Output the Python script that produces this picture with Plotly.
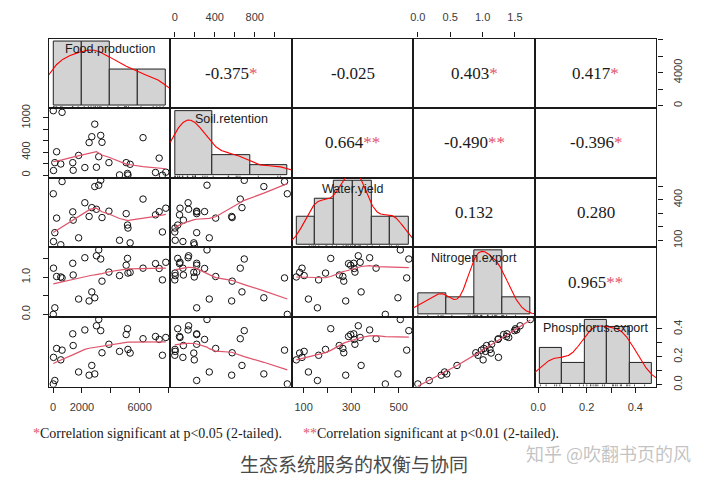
import numpy as np
import plotly.graph_objects as go

# ---------------- data ----------------
var_names = ["Food.production", "Soil.retention", "Water.yield",
             "Nitrogen.export", "Phosphorus.export"]

food = [10, 25, 117, 240, 529, 619, 1360, 1390, 1767, 2200, 2496, 2681, 2888, 3004,
        3163, 3300, 3389, 3871, 4606, 5067, 5160, 5190, 5342, 6236, 7102, 7356, 7583, 7817]
soil = [1126, 81, 219, 409, 195, 1098, 219, 86, 345, 133, 569, 672, 891, 138,
        322, 695, 574, 219, 4, 219, 29, 2, 190, 655, 47, 298, 0, 52]
water = [444, 93, 158, 265, 69, 534, 311, 250, 120, 378, 277, 342, 497, 330,
         507, 543, 269, 316, 102, 298, 214, 192, 83, 405, 289, 313, 163, 338]
nitrogen = [0.0, 1.245, 0.176, 1.02, 1.008, 0.982, 1.376, 1.061, 0.413, 1.526, 0.361, 0.605,
            0.447, 1.579, 1.737, 1.492, 0.895, 1.139, 1.045, 1.324, 1.508, 1.113, 1.132,
            1.245, 1.368, 1.237, 0.929, 1.403]
phosphorus = [0.005, 0.196, 0.030, 0.260, 0.178, 0.248, 0.365, 0.281, 0.091, 0.393, 0.068,
              0.138, 0.077, 0.423, 0.468, 0.388, 0.229, 0.290, 0.239, 0.360, 0.402, 0.253,
              0.227, 0.330, 0.346, 0.325, 0.211, 0.339]

# upper-triangle correlation labels, row by row
corr_values = ["-0.375", "-0.025", "0.403", "0.417", "0.664", "-0.490", "-0.396",
               "0.132", "0.280", "0.965"]
corr_stars = ["*", "", "*", "*", "**", "**", "*", "", "", "**"]

hist_bin_width = [2000, 400, 100, 0.5, 0.1]

tick_vals = [[0, 2000, 4000, 6000, 8000],
             [0, 200, 400, 600, 800, 1000],
             [100, 200, 300, 400, 500],
             [0.0, 0.5, 1.0, 1.5],
             [0.0, 0.1, 0.2, 0.3, 0.4]]
x_tick_text = [["0", "2000", "", "6000", ""],
               ["0", "", "400", "", "800", ""],
               ["100", "", "300", "", "500"],
               ["0.0", "0.5", "1.0", "1.5"],
               ["0.0", "", "0.2", "", "0.4"]]
y_tick_text = [["0", "", "4000", "", ""],
               ["0", "", "400", "", "", "1000"],
               ["100", "", "", "400", ""],
               ["0.0", "", "1.0", ""],
               ["0.0", "", "0.2", "", "0.4"]]

footnote_1 = "Correlation significant at p&lt;0.05 (2-tailed)."
footnote_2 = "Correlation significant at p&lt;0.01 (2-tailed)."
caption = "生态系统服务的权衡与协同"
watermark = "知乎 @吹翻书页的风"

# ---------------- helpers ----------------
def bw_nrd0(x):
    x = np.asarray(x, float)
    sd = np.std(x, ddof=1)
    q75, q25 = np.percentile(x, [75, 25])
    lo = min(sd, (q75 - q25) / 1.34)
    if lo <= 0:
        lo = sd if sd > 0 else 1.0
    return 0.9 * lo * len(x) ** (-0.2)


def density(x):
    x = np.asarray(x, float)
    bw = bw_nrd0(x)
    g = np.linspace(x.min() - 3 * bw, x.max() + 3 * bw, 512)
    d = np.exp(-0.5 * ((g[:, None] - x[None, :]) / bw) ** 2).sum(1) / (len(x) * bw * np.sqrt(2 * np.pi))
    return g, d


def lowess(x, y, f=2 / 3, iters=3):
    x = np.asarray(x, float)
    y = np.asarray(y, float)
    o = np.argsort(x, kind="mergesort")
    x = x[o]
    y = y[o]
    n = len(x)
    ns = max(min(int(f * n + 1e-7), n), 2)
    rw = np.ones(n)
    rng = x[-1] - x[0]
    ys = np.zeros(n)
    for it in range(iters + 1):
        for i in range(n):
            d = np.abs(x - x[i])
            h = np.sort(d)[ns - 1]
            if h > 0:
                r = d / h
                w = np.where(r <= 0.999, np.where(r <= 0.001, 1.0, (1 - r ** 3) ** 3), 0.0)
            else:
                w = (d == 0).astype(float)
            w = w * rw
            if w.sum() <= 0:
                ys[i] = y[i]
                continue
            w = w / w.sum()
            if h > 0:
                a = np.sum(w * x)
                b = x[i] - a
                c = np.sum(w * (x - a) ** 2)
                if np.sqrt(c) > 0.001 * rng:
                    b = b / c
                    w = w * (b * (x - a) + 1)
            ys[i] = np.sum(w * y)
        if it == iters:
            break
        res = y - ys
        cmad = 6 * np.median(np.abs(res))
        if cmad < 1e-7 * np.mean(np.abs(y)):
            break
        r = np.abs(res) / cmad
        rw = np.where(r <= 0.001, 1.0, np.where(r <= 0.999, (1 - r ** 2) ** 2, 0.0))
    return x, ys


def ext_range(v, frac=0.04):
    lo, hi = float(np.min(v)), float(np.max(v))
    s = hi - lo
    return [lo - frac * s, hi + frac * s]


# ---------------- geometry ----------------
# the page shows the figure 8px in from the top-left corner (body margin),
# so the figure is 8px smaller and window pixels are converted with PAD.
PAD = 8
WIN_W, WIN_H = 720, 479
W, H = WIN_W - PAD, WIN_H - PAD


def px(xp):
    return (xp - PAD) / W


def py(yp):
    return 1 - (yp - PAD) / H


LEFT, RIGHT, TOP, BOTTOM = 45, 656, 35, 389
NV = 5
cw = (RIGHT - LEFT) / NV
rh = (BOTTOM - TOP) / NV

data = [np.array(food, float), np.array(soil, float), np.array(water, float),
        np.array(nitrogen, float), np.array(phosphorus, float)]
ranges = [ext_range(v) for v in data]

SMOOTH = "#DF536B"
STAR = "#DF536B"
FRAME = "#1a1a1a"
TICKFONT = dict(family="Liberation Sans, Arial, sans-serif", size=11, color="#3a3a3a")

fig = go.Figure()
layout = {}
annotations = []


def pid(i, j):
    return i * NV + j + 1


def axname(prefix, k):
    return prefix if k == 1 else f"{prefix}{k}"


def xticks(j, side):
    return dict(side=side, ticks="outside", ticklen=5, tickwidth=1, tickcolor=FRAME,
                tickvals=tick_vals[j], ticktext=x_tick_text[j], showticklabels=True,
                tickfont=TICKFONT, ticklabelstandoff=7 if side == "top" else 5)


def yticks(i, side):
    return dict(side=side, ticks="outside", ticklen=5, tickwidth=1, tickcolor=FRAME,
                tickvals=tick_vals[i], ticktext=y_tick_text[i], showticklabels=True,
                tickfont=TICKFONT, tickangle=-90,
                ticklabelstandoff=8 if side == "left" else 6)


def base_axis(domain, anchor, rng):
    return dict(domain=domain, anchor=anchor, range=rng, showgrid=False,
                zeroline=False, showline=True, mirror=True, linecolor=FRAME, linewidth=1.3,
                ticks="", showticklabels=False, fixedrange=True)


extra = 26
for i in range(NV):
    for j in range(NV):
        k = pid(i, j)
        xd = [px(LEFT + j * cw), px(LEFT + (j + 1) * cw)]
        yd = [py(TOP + (i + 1) * rh), py(TOP + i * rh)]
        xr, yr = axname("x", k), axname("y", k)

        if i != j:
            xa = base_axis(xd, yr, ranges[j])
            ya = base_axis(yd, xr, ranges[i])
            if i == NV - 1 and j % 2 == 0:
                xa.update(xticks(j, "bottom"))
            if i == 0 and j % 2 == 1:
                xa.update(xticks(j, "top"))
            if j == 0 and i % 2 == 1:
                ya.update(yticks(i, "left"))
            if j == NV - 1 and i % 2 == 0:
                ya.update(yticks(i, "right"))
            layout[axname("xaxis", k)] = xa
            layout[axname("yaxis", k)] = ya

        if i > j:
            x, y = data[j], data[i]
            fig.add_trace(go.Scatter(x=x, y=y, xaxis=xr, yaxis=yr, mode="markers",
                                     marker=dict(symbol="circle-open", size=6.5, color="#111",
                                                 line=dict(width=1, color="#111")),
                                     showlegend=False, hoverinfo="skip"))
            lx, ly = lowess(x, y)
            fig.add_trace(go.Scatter(x=lx, y=ly, xaxis=xr, yaxis=yr, mode="lines",
                                     line=dict(color=SMOOTH, width=1.2),
                                     showlegend=False, hoverinfo="skip"))
        elif i < j:
            fig.add_trace(go.Scatter(x=[None], y=[None], xaxis=xr, yaxis=yr, mode="markers",
                                     showlegend=False, hoverinfo="skip"))
        else:
            # diagonal: histogram in its own coordinate system
            v = data[i]
            bwid = hist_bin_width[i]
            b0 = np.floor(v.min() / bwid + 1e-9) * bwid
            b1 = np.ceil(v.max() / bwid - 1e-9) * bwid
            nb = int(round((b1 - b0) / bwid))
            edges = b0 + bwid * np.arange(nb + 1)
            counts, _ = np.histogram(v, bins=edges)
            dens = counts / (len(v) * bwid)
            M = dens.max()
            hxr = [edges[0] - 0.04 * (edges[-1] - edges[0]), edges[-1] + 0.04 * (edges[-1] - edges[0])]
            hyr = [-0.04 * M, 1.04 * M]
            layout[axname("xaxis", k)] = base_axis(xd, yr, hxr)
            layout[axname("yaxis", k)] = base_axis(yd, xr, hyr)
            fig.add_trace(go.Bar(x=(edges[:-1] + edges[1:]) / 2, y=dens, width=bwid,
                                 xaxis=xr, yaxis=yr,
                                 marker=dict(color="#D3D3D3", line=dict(color="#222", width=1)),
                                 showlegend=False, hoverinfo="skip"))
            g, d = density(v)
            fig.add_trace(go.Scatter(x=g, y=d, xaxis=xr, yaxis=yr, mode="lines",
                                     line=dict(color="#FF0000", width=1.1),
                                     showlegend=False, hoverinfo="skip"))
            rx, ry = [], []
            for val in v:
                rx += [val, val, None]
                ry += [hyr[0], hyr[0] + 0.03 * (hyr[1] - hyr[0]), None]
            fig.add_trace(go.Scatter(x=rx, y=ry, xaxis=xr, yaxis=yr, mode="lines",
                                     line=dict(color="#333", width=0.8),
                                     showlegend=False, hoverinfo="skip"))
            annotations.append(dict(text=var_names[i], xref=f"{xr} domain", yref=f"{yr} domain",
                                    x=0.5, y=1 - 11 / rh, xanchor="center", yanchor="middle",
                                    showarrow=False,
                                    font=dict(family="Liberation Sans, Arial, sans-serif",
                                              size=12.5, color="#1a1a1a")))
            # last diagonal panel carries the outer axes of Phosphorus.export
            if i == NV - 1:
                tx, ty = f"x{extra}", f"y{extra}"
                ta = dict(domain=xd, anchor=ty, range=ranges[i], showgrid=False,
                          zeroline=False, showline=False, fixedrange=True)
                ta.update(xticks(i, "bottom"))
                tya = dict(domain=yd, anchor=tx, range=ranges[i], showgrid=False,
                           zeroline=False, showline=False, fixedrange=True)
                tya.update(yticks(i, "right"))
                layout[f"xaxis{extra}"] = ta
                layout[f"yaxis{extra}"] = tya
                fig.add_trace(go.Scatter(x=[None], y=[None], xaxis=tx, yaxis=ty,
                                         mode="markers", showlegend=False, hoverinfo="skip"))

# correlation texts
c = 0
for i in range(NV):
    for j in range(i + 1, NV):
        k = pid(i, j)
        txt = corr_values[c]
        if corr_stars[c]:
            txt += f"<span style='color:{STAR}'>{corr_stars[c]}</span>"
        annotations.append(dict(text=txt, xref=f"{axname('x', k)} domain",
                                yref=f"{axname('y', k)} domain", x=0.5, y=0.5,
                                xanchor="center", yanchor="middle", showarrow=False,
                                font=dict(family="Liberation Serif, Times New Roman, serif",
                                          size=17, color="#1a1a1a")))
        c += 1

SERIF = dict(family="Liberation Serif, Times New Roman, serif", size=14, color="#1a1a1a")
annotations.append(dict(text=f"<span style='color:{STAR}'>*</span>" + footnote_1,
                        xref="paper", yref="paper", x=px(27), y=py(437),
                        xanchor="left", yanchor="middle", showarrow=False, font=SERIF))
annotations.append(dict(text=f"<span style='color:{STAR}'>**</span>" + footnote_2,
                        xref="paper", yref="paper", x=px(299), y=py(437),
                        xanchor="left", yanchor="middle", showarrow=False, font=SERIF))
annotations.append(dict(text=caption, xref="paper", yref="paper", x=px(352), y=py(467),
                        xanchor="center", yanchor="middle", showarrow=False,
                        font=dict(family="Noto Sans CJK SC", size=19, color="#4a4a4a")))
annotations.append(dict(text=watermark, xref="paper", yref="paper", x=px(608), y=py(457),
                        xanchor="center", yanchor="middle", showarrow=False,
                        font=dict(family="Noto Sans CJK SC", size=18,
                                  color="rgba(175,175,175,0.75)")))

layout.update(width=W, height=H, margin=dict(l=0, r=0, t=0, b=0),
              paper_bgcolor="white", plot_bgcolor="rgba(0,0,0,0)", showlegend=False,
              bargap=0, annotations=annotations)
fig.update_layout(**layout)
fig.write_html("out.html")
